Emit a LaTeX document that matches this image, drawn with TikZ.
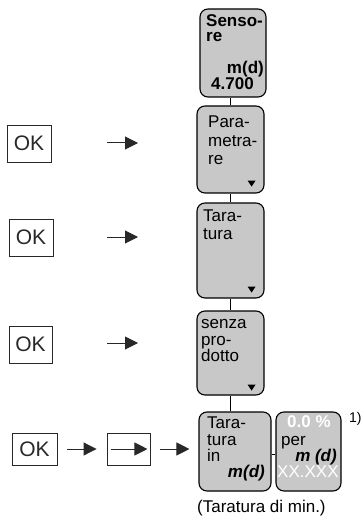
\documentclass[tikz,border=0pt]{standalone}
\usepackage{fontspec}
\setmainfont{Liberation Sans}
\usetikzlibrary{arrows.meta,calc}
\definecolor{boxgray}{RGB}{200,200,200}
\definecolor{linegray}{RGB}{40,40,40}
\begin{document}
\begin{tikzpicture}[x=1pt,y=-1pt,
  disp/.style={draw=black, line width=1.1pt, rounded corners=8pt, fill=boxgray, inner sep=0pt},
  okbox/.style={draw=linegray, line width=0.9pt, inner sep=0pt},
  oktext/.style={font=\fontsize{21}{23}\selectfont, text=linegray},
  txt/.style={inner sep=0pt, anchor=base west, font=\fontsize{17}{18}\selectfont},
  txtr/.style={inner sep=0pt, anchor=base east, font=\fontsize{17}{18}\selectfont},
  conn/.style={draw=black, line width=0.9pt},
  arr/.style={draw=linegray, line width=1pt, -{Triangle[length=13pt,width=13pt]}},
  tri/.style={fill=black}
]
\useasboundingbox (0,0) rectangle (362,518);

% display boxes
\node[disp, minimum width=66pt, minimum height=88pt] (b1) at (233,53) {};
\node[disp, minimum width=67pt, minimum height=87pt] (b2) at (230.5,149.5) {};
\node[disp, minimum width=67pt, minimum height=95pt] (b3) at (230.5,250.5) {};
\node[disp, minimum width=67pt, minimum height=84pt] (b4) at (230.5,353) {};
\node[disp, minimum width=72pt, minimum height=79pt] (b5) at (235,451.5) {};
\node[disp, minimum width=65pt, minimum height=79pt] (b6) at (308.5,451.5) {};

% connectors
\draw[conn] (b2.north) -- (b2.north |- b1.south);
\draw[conn] (b3.north) -- (b3.north |- b2.south);
\draw[conn] (b4.north) -- (b4.north |- b3.south);
\draw[conn] (b4.south) -- (b4.south |- b5.north);
\draw[conn] ([yshift=-3pt]b5.east) -- ([yshift=-3pt]b6.west);

% texts box 1
\node[txt, font=\fontsize{17}{18}\selectfont\bfseries] (t1a) at (206,27) {Senso-};
\node[txt, font=\fontsize{17}{18}\selectfont\bfseries] (t1b) at (206,42) {re};
\node[txtr, font=\fontsize{17}{18}\selectfont\bfseries] (t1c) at (264,74) {m(d)};
\node[txt, font=\fontsize{17}{18}\selectfont\bfseries] (t1d) at (211,90) {4.700};

% box 2
\node[txt] (t2a) at (208,128) {Para-};
\node[txt] (t2b) at (208,147) {metra-};
\node[txt] (t2c) at (208,165) {re};
% box 3
\node[txt] (t3a) at (203,222) {Tara-};
\node[txt] (t3b) at (203,239) {tura};
% box 4
\node[txt] (t4a) at (201,328) {senza};
\node[txt] (t4b) at (201,345) {pro-};
\node[txt] (t4c) at (201,361) {dotto};
% box 5
\node[txt] (t5a) at (207,428) {Tara-};
\node[txt] (t5b) at (207,445) {tura};
\node[txt] (t5c) at (207,461) {in};
\node[txtr, font=\fontsize{17}{18}\selectfont\bfseries\itshape] (t5d) at (265,477) {m(d)};
% box 6
\node[txt, font=\fontsize{17}{18}\selectfont\bfseries, text=white] (t6a) at (287,427) {0.0 \%};
\node[txt] (t6b) at (281,445) {per};
\node[txtr, font=\fontsize{17}{18}\selectfont\bfseries\itshape] (t6c) at (337,461) {m (d)};
\node[txt, text=white] (t6d) at (277,477) {XX.XXX};

\node[inner sep=0pt, anchor=base west, font=\fontsize{14}{15}\selectfont] (note) at (349,422) {1)};
\node[inner sep=0pt, anchor=base west, font=\fontsize{17}{18}\selectfont] (cap) at (197,512) {(Taratura di min.)};

% small triangles
\fill[tri] ($(b2.south east)+(-17,-13)$) -- ++(8,0) -- ++(-4,6) -- cycle;
\fill[tri] ($(b3.south east)+(-17,-12)$) -- ++(8,0) -- ++(-4,6) -- cycle;
\fill[tri] ($(b4.south east)+(-17,-11)$) -- ++(8,0) -- ++(-4,6) -- cycle;

% OK boxes
\node[okbox, oktext, minimum width=44pt, minimum height=37pt] (ok1) at (29,143.5) {OK};
\node[okbox, oktext, minimum width=44pt, minimum height=37pt] (ok2) at (31,237.5) {OK};
\node[okbox, oktext, minimum width=43pt, minimum height=37pt] (ok3) at (30.5,344.5) {OK};
\node[okbox, oktext, minimum width=45pt, minimum height=32pt] (ok4) at (34.5,449) {OK};
\node[okbox, minimum width=43pt, minimum height=32pt] (rb) at (128.5,449) {};

% arrows
\coordinate (a1s) at (107,143);
\coordinate (a1e) at (138,143);
\coordinate (a2s) at (107,237);
\coordinate (a2e) at (138,237);
\coordinate (a3s) at (107,343);
\coordinate (a3e) at (138,343);
\draw[arr] (a1s) -- (a1e);
\draw[arr] (a2s) -- (a2e);
\draw[arr] (a3s) -- (a3e);
\draw[arr, shorten <=10pt, shorten >=10pt] (ok4.east) -- (rb.west);
\draw[arr, shorten <=4pt, shorten >=3pt] (rb.west) -- (rb.east);
\draw[arr, shorten <=10pt, shorten >=9pt] (rb.east) -- (rb.east -| b5.west);
\end{tikzpicture}
\end{document}
